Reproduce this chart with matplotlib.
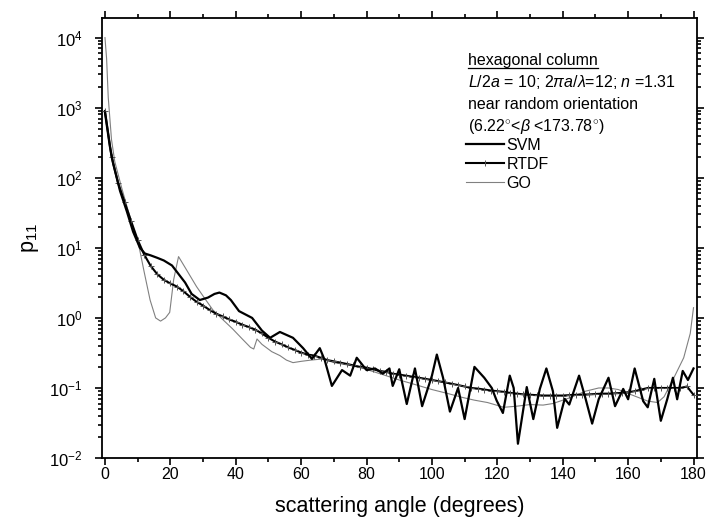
#!/usr/bin/env python3
"""Phase function p11 of a hexagonal column: SVM vs RTDF vs GO."""

import matplotlib

matplotlib.use("Agg")
import matplotlib.pyplot as plt
from matplotlib.lines import Line2D
from matplotlib.ticker import LogLocator, MultipleLocator, NullFormatter

plt.rcParams["font.family"] = ["Liberation Sans", "DejaVu Sans"]
plt.rcParams["mathtext.fontset"] = "custom"
plt.rcParams["mathtext.rm"] = "Liberation Sans"
plt.rcParams["mathtext.it"] = "Liberation Sans:italic"
plt.rcParams["mathtext.bf"] = "Liberation Sans:bold"
plt.rcParams["axes.unicode_minus"] = False

# --- data ---------------------------------------------------------------
svm_angle = [0, 1.5, 2.5, 4.6, 6.7, 8.6, 10.7, 12.2, 14, 16, 18, 20.5, 22.9,
             24.5, 26.5, 29, 31.5, 33.5, 35, 37, 38.5, 41, 45, 48, 50.5,
             53.5, 57.5, 60.6, 63.3, 65.7, 67.2, 69.4, 72.5, 75, 77, 80,
             82.6, 85, 87, 88, 90, 92.3, 94.8, 97, 100, 101.5, 103.4, 105.5,
             108, 110, 113, 116, 118.3, 119.8, 121.7, 123.8, 125, 126.3, 129,
             131, 133, 135, 137, 138.3, 140.6, 142, 145, 147, 149, 151, 154,
             156, 158.5, 160, 162, 164.6, 166, 168, 170, 172, 173.7, 175,
             176.7, 178.3, 180]
svm_p11 = [850, 280, 160, 65, 33, 17, 10, 8.3, 7.8, 7.2, 6.6, 5.6, 4.0,
           3.2, 2.2, 1.8, 1.95, 2.2, 2.3, 2.1, 1.8, 1.25, 1.0, 0.66, 0.52,
           0.63, 0.52, 0.37, 0.26, 0.37, 0.25, 0.107, 0.18, 0.15, 0.27, 0.18,
           0.19, 0.16, 0.19, 0.107, 0.185, 0.059, 0.19, 0.055, 0.15, 0.30,
           0.14, 0.046, 0.10, 0.036, 0.20, 0.14, 0.10, 0.066, 0.044, 0.15,
           0.10, 0.016, 0.103, 0.036, 0.097, 0.19, 0.09, 0.027, 0.07, 0.058,
           0.15, 0.07, 0.031, 0.069, 0.14, 0.055, 0.097, 0.069, 0.19, 0.065,
           0.053, 0.135, 0.034, 0.07, 0.14, 0.069, 0.175, 0.13, 0.19]

rtdf_angle = list(range(0, 181, 2))
rtdf_p11 = [900, 200, 85, 45, 24, 13, 8, 5.5, 4.2, 3.5, 3.1, 2.8, 2.4, 2.0,
            1.7, 1.5, 1.3, 1.15, 1.05, 0.95, 0.88, 0.8, 0.74, 0.68, 0.6,
            0.52, 0.46, 0.42, 0.38, 0.35, 0.32, 0.30, 0.29, 0.27, 0.25, 0.24,
            0.23, 0.22, 0.21, 0.20, 0.195, 0.185, 0.175, 0.17, 0.16, 0.155,
            0.15, 0.145, 0.14, 0.135, 0.13, 0.125, 0.12, 0.115, 0.11, 0.105,
            0.10, 0.098, 0.095, 0.092, 0.09, 0.088, 0.085, 0.083, 0.081, 0.08,
            0.079, 0.078, 0.078, 0.078, 0.078, 0.079, 0.08, 0.08, 0.081,
            0.082, 0.083, 0.083, 0.084, 0.085, 0.087, 0.09, 0.095, 0.10, 0.10,
            0.10, 0.10, 0.10, 0.10, 0.105, 0.08]

go_angle = [0, 0.5, 1, 2, 3, 5, 7, 9, 10.5, 12, 13.8, 15.5, 17, 18.5, 19.8,
            21, 22.5, 25, 28, 30.5, 33, 36, 39, 42, 44.5, 45.5, 46.5, 48, 51,
            53.5, 55.5, 57.5, 60, 63, 66.7, 70, 75, 79, 85, 90, 94, 100, 105,
            109.5, 113, 117, 122, 126, 130, 134, 137, 142, 147, 151, 154, 157,
            161, 166, 169, 171, 174, 177, 179, 180]
go_p11 = [10000, 5000, 1400, 350, 170, 75, 35, 17, 10, 4.5, 1.8, 1.0, 0.9,
          1.0, 1.2, 3.5, 7.5, 4.8, 2.8, 1.9, 1.3, 0.95, 0.7, 0.5, 0.38, 0.36,
          0.5, 0.42, 0.33, 0.29, 0.25, 0.23, 0.24, 0.25, 0.26, 0.23, 0.21,
          0.19, 0.155, 0.13, 0.115, 0.095, 0.083, 0.073, 0.067, 0.062, 0.053,
          0.055, 0.058, 0.057, 0.06, 0.072, 0.09, 0.10, 0.10, 0.095, 0.08,
          0.065, 0.062, 0.075, 0.14, 0.27, 0.6, 1.4]

info_lines = [
    "hexagonal column",
    r"$\mathit{L}$/2$\mathit{a}$ = 10; 2$\pi\mathit{a}/\lambda$=12; $\mathit{n}$ =1.31",
    "near random orientation",
    r"(6.22$^{\circ}$<$\beta$ <173.78$^{\circ}$)",
]

fig = plt.figure(figsize=(7.11, 5.32), dpi=100)
ax = fig.add_axes([0.1435, 0.139, 0.8365, 0.827])

ax.plot(go_angle, go_p11, color="#808080", lw=0.8, label="GO", zorder=2)
ax.plot(rtdf_angle, rtdf_p11, color="black", lw=1.5, marker="+", ms=4,
        mew=0.7, mec="#555555", label="RTDF", zorder=3)
ax.plot(svm_angle, svm_p11, color="black", lw=1.6, solid_joinstyle="round",
        label="SVM", zorder=4)

ax.set_yscale("log")
ax.set_xlim(-0.9, 181)
ax.set_ylim(1e-2, 1.9e4)
ax.xaxis.set_major_locator(MultipleLocator(20))
ax.xaxis.set_minor_locator(MultipleLocator(10))
ax.yaxis.set_major_locator(LogLocator(base=10, numticks=20))
ax.yaxis.set_minor_locator(LogLocator(base=10, subs=range(2, 10), numticks=20))
ax.yaxis.set_minor_formatter(NullFormatter())
ax.tick_params(which="both", direction="out", top=True, right=True, width=1.2)
ax.tick_params(which="major", length=5)
ax.tick_params(which="minor", length=3)
ax.tick_params(axis="x", labelsize=11.5, pad=1.5)
ax.tick_params(axis="y", labelsize=12, pad=9)
for spine in ax.spines.values():
    spine.set_linewidth(1.3)

ax.set_xlabel("scattering angle (degrees)", fontsize=15.5, labelpad=10)
ax.set_ylabel(r"p$_{11}$", fontsize=15.5, labelpad=6)

# annotation block (axes fraction positions)
y0 = 0.9045
for i, line in enumerate(info_lines):
    t = ax.text(0.615, y0 - i * 0.05, line, transform=ax.transAxes,
                fontsize=11.5, va="center", ha="left")
    if i == 0:
        head = t

fig.canvas.draw()
bb = head.get_window_extent().transformed(ax.transAxes.inverted())
ax.plot([bb.x0, bb.x1], [bb.y0 - 0.002, bb.y0 - 0.002], color="black",
        lw=0.9, transform=ax.transAxes, clip_on=False)

handles = [
    Line2D([0, 1, 2], [0, 0, 0], color="black", lw=1.6),
    Line2D([0, 1, 2], [0, 0, 0], color="black", lw=1.5, marker="|", ms=4,
           mew=0.7, markevery=[1], mec="#555555"),
    Line2D([0, 1, 2], [0, 0, 0], color="#808080", lw=0.8),
]
ax.legend(handles, ["SVM", "RTDF", "GO"], loc="center left",
          bbox_to_anchor=(0.612, 0.668), frameon=False, fontsize=11.5,
          handlelength=2.4, handletextpad=0.15, labelspacing=0.25,
          borderaxespad=0, borderpad=0)

fig.savefig("out.png", dpi=100)
